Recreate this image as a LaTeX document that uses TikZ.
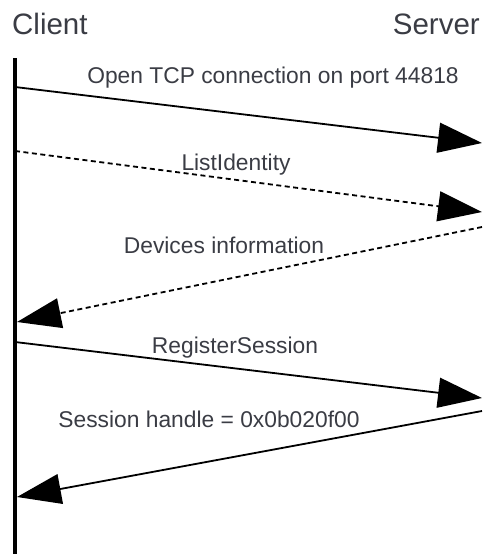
\documentclass[tikz,border=0pt]{standalone}
\usepackage{fontspec}
\setmainfont{Liberation Sans}
\usetikzlibrary{arrows.meta}
\definecolor{txt}{RGB}{58,60,68}
\begin{document}
\begin{tikzpicture}[x=1pt,y=-1pt,
  msg/.style={line width=1.8pt,-{Triangle[length=44pt,width=30pt]}},
  dmsg/.style={msg,dash pattern=on 5pt off 3.5pt},
  lbl/.style={text=txt,font=\fontsize{22.8}{24}\selectfont,inner sep=0pt,anchor=base},
  head/.style={text=txt,font=\fontsize{29.5}{31}\selectfont,inner sep=0pt,anchor=base}]
\useasboundingbox (0,0) rectangle (482,554);
\node[head,anchor=base west] (client) at (12,34) {Client};
\node[head,anchor=base east] (server) at (480,34) {Server};
\coordinate (ltop) at (15,58);
\coordinate (lbot) at (15,554);
\draw[line width=4.5pt] (ltop) -- (lbot);
% message endpoints
\coordinate (a1) at (15,87);  \coordinate (b1) at (482,143);
\coordinate (a2) at (15,151); \coordinate (b2) at (482,212);
\coordinate (b3) at (482,227); \coordinate (a3) at (17,322);
\coordinate (a4) at (15,342); \coordinate (b4) at (482,398);
\coordinate (b5) at (482,411); \coordinate (a5) at (17,497);
\draw[msg] (a1) -- (b1);
\draw[dmsg] (a2) -- (b2);
\draw[dmsg] (b3) -- (a3);
\draw[msg] (a4) -- (b4);
\draw[msg] (b5) -- (a5);
\node[lbl] (l1) at (273,83) {Open TCP connection on port 44818};
\node[lbl] (l2) at (236,170) {ListIdentity};
\node[lbl] (l3) at (224,253) {Devices information};
\node[lbl] (l4) at (235,353) {RegisterSession};
\node[lbl] (l5) at (209,427) {Session handle = 0x0b020f00};
\end{tikzpicture}
\end{document}
